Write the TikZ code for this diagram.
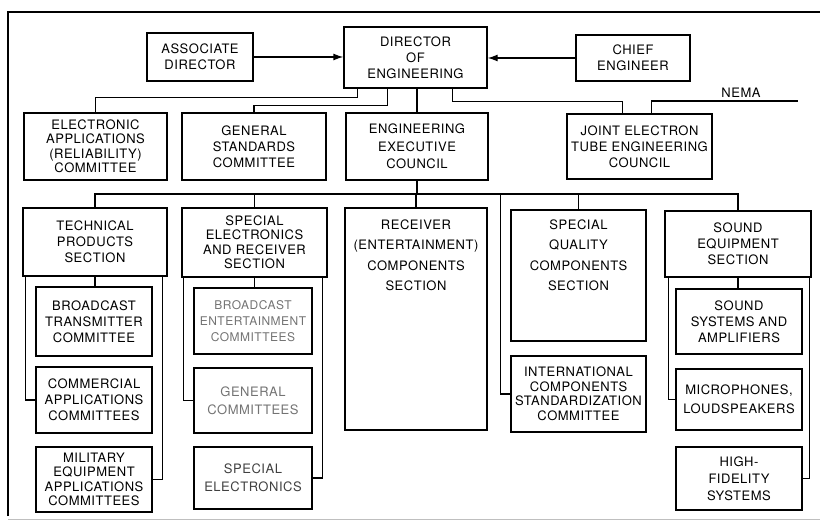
\documentclass[tikz,border=0pt]{standalone}
\usepackage{fontspec}
\setmainfont{TeX Gyre Heros}[LetterSpace=4]
\usetikzlibrary{arrows.meta}
\newcommand\bxnode[7][]{%
  \node[box, minimum width={(#5-#3)*1pt}, minimum height={(#6-#4)*1pt}, #1]
    (#2) at ({(#3+#5)/2},{(#4+#6)/2}) {#7};}
\begin{document}
\begin{tikzpicture}[x=1pt, y=-1pt,
  box/.style={draw, line width=1.3pt, align=center, inner sep=1pt,
    font=\fontsize{13}{16}\selectfont},
  four/.style={font=\fontsize{13}{14.5}\selectfont},
  txt/.style={align=center, inner sep=0pt, font=\fontsize{13}{20.5}\selectfont},
  wire/.style={line width=1.3pt},
  greytext/.style={text=black!55},
  arr/.style={wire, -{Latex[length=10pt, width=7pt]}}]
\useasboundingbox (0,0) rectangle (820,521);
% frame
\draw[line width=1.5pt] (8,516) -- (8,12) -- (820,12);
\draw[black!25, line width=0.6pt] (8,519) -- (820,519);
% top level
\bxnode{assoc}{147}{33}{253}{81}{ASSOCIATE\\DIRECTOR}
\bxnode{dir}{344}{27}{487}{88}{DIRECTOR\\OF\\ENGINEERING}
\bxnode{chief}{576}{35}{690}{81}{CHIEF\\ENGINEER}
% second level
\bxnode[four]{ea}{24}{113}{167}{180}{ELECTRONIC\\APPLICATIONS\\(RELIABILITY)\\COMMITTEE}
\bxnode{gs}{182}{113}{326}{180}{GENERAL\\STANDARDS\\COMMITTEE}
\bxnode[font=\fontsize{13}{17.5}\selectfont]{eec}{346}{113}{488}{180}{ENGINEERING\\EXECUTIVE\\COUNCIL}
\bxnode{jetec}{567}{114}{712}{179}{JOINT ELECTRON\\TUBE ENGINEERING\\COUNCIL}
\node[font=\fontsize{13}{16}\selectfont, anchor=south, inner sep=1pt] (nemalabel) at (741,99) {NEMA};
\coordinate (nema) at (798,101);
% sections
\bxnode{tps}{23}{208}{167}{276}{TECHNICAL\\PRODUCTS\\SECTION}
\bxnode[four]{sers}{182}{208}{327}{277}{SPECIAL\\ELECTRONICS\\AND RECEIVER\\SECTION}
\bxnode{rec}{345}{208}{487}{430}{}
\node[txt, anchor=north] (rect) at ([yshift=-12pt]rec.north) {RECEIVER\\(ENTERTAINMENT)\\COMPONENTS\\SECTION};
\bxnode{sqc}{511}{210}{646}{341}{}
\node[txt, anchor=north] (sqct) at ([yshift=-10pt]sqc.north) {SPECIAL\\QUALITY\\COMPONENTS\\SECTION};
\bxnode[four]{icsc}{511}{356}{646}{432}{INTERNATIONAL\\COMPONENTS\\STANDARDIZATION\\COMMITTEE}
\bxnode{ses}{665}{211}{811}{277}{SOUND\\EQUIPMENT\\SECTION}
% committees
\bxnode{btc}{36}{287}{152}{356}{BROADCAST\\TRANSMITTER\\COMMITTEE}
\bxnode{cac}{36}{367}{152}{433}{COMMERCIAL\\APPLICATIONS\\COMMITTEES}
\bxnode[four]{meac}{36}{447}{152}{512}{MILITARY\\EQUIPMENT\\APPLICATIONS\\COMMITTEES}
\bxnode[greytext, font=\fontsize{12}{16}\selectfont]{bec}{194}{288}{312}{354}{BROADCAST\\ENTERTAINMENT\\COMMITTEES}
\bxnode[greytext, font=\fontsize{13}{18}\selectfont]{gc}{194}{368}{312}{433}{GENERAL\\COMMITTEES}
\bxnode[text=black!75, font=\fontsize{13}{18}\selectfont]{se}{194}{447}{312}{509}{SPECIAL\\ELECTRONICS}
\bxnode{ssa}{676}{289}{802}{354}{SOUND\\SYSTEMS AND\\AMPLIFIERS}
\bxnode[font=\fontsize{13}{19}\selectfont]{mic}{676}{369}{802}{430}{MICROPHONES,\\LOUDSPEAKERS}
\bxnode[font=\fontsize{13}{17}\selectfont]{hfs}{676}{447}{802}{510}{HIGH-\\FIDELITY\\SYSTEMS}
% connectors top
\draw[arr] (assoc.east) -- (assoc.east -| dir.west);
\draw[arr] (chief.west) -- (chief.west -| dir.east);
\draw[wire] ([xshift=14pt]dir.south west) -- ++(0,9) -| (ea.north);
\draw[wire] ([xshift=44pt]dir.south west) -- ++(0,17) -| (gs.north);
\draw[wire] (eec.north |- dir.south) -- (eec.north);
\draw[wire] ([xshift=-35pt]dir.south east) -- ++(0,13) -| ([xshift=56pt]jetec.north west);
\draw[wire] ([xshift=85pt]jetec.north west) |- (nema);
% bus
\coordinate (bus) at (0,194);
\draw[wire] (tps.north) |- (ses.north |- bus) -- (ses.north);
\draw[wire] (eec.south) -- (eec.south |- bus);
\draw[wire] (sers.north) -- (sers.north |- bus);
\draw[wire] (rec.north) -- (rec.north |- bus);
\draw[wire] (sqc.north) -- (sqc.north |- bus);
\draw[wire] (icsc.west) -| ([xshift=-10pt]icsc.west |- bus);
% technical products
\draw[wire] (tps.south) -- (btc.north -| tps.south);
\draw[wire] ([xshift=3pt]tps.south west) |- (cac.west);
\draw[wire] ([xshift=-5pt]tps.south east) |- (meac.east);
% special electronics
\draw[wire] (sers.south) -- (bec.north -| sers.south);
\draw[wire] ([xshift=2pt]sers.south west) |- (gc.west);
\draw[wire] ([xshift=-5pt]sers.south east) |- (se.east);
% sound
\draw[wire] (ses.south) -- (ssa.north -| ses.south);
\draw[wire] ([xshift=4pt]ses.south west) |- (mic.west);
\draw[wire] ([xshift=-2pt]ses.south east) |- (hfs.east);
\end{tikzpicture}
\end{document}
